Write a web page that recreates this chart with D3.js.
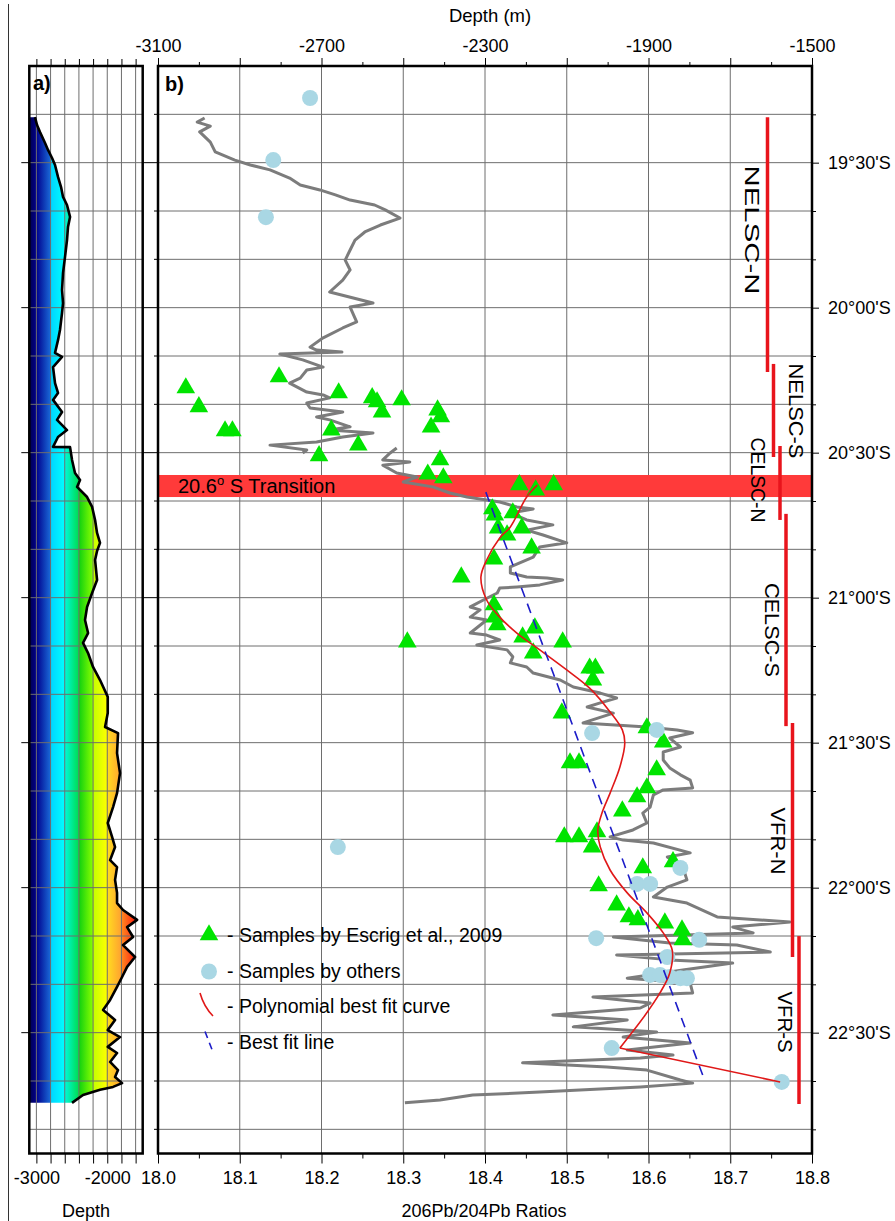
<!DOCTYPE html>
<html><head><meta charset="utf-8">
<script src="https://cdn.jsdelivr.net/npm/d3@7"></script>
<style>
body{margin:0;background:#fff}
svg{display:block}
text{font-family:"Liberation Sans",Arial,Helvetica,sans-serif;fill:#000}
</style>
</head><body>
<svg id="chart" width="895" height="1221"></svg>
<script>
// ---------------- DATA ----------------
const ratioTicks = [18.0,18.1,18.2,18.3,18.4,18.5,18.6,18.7,18.8];
const depthTopTicks = [-3100,-2700,-2300,-1900,-1500];
const depthATicks = [-3000,-2000];
const latTicks = [19.5,20.0,20.5,21.0,21.5,22.0,22.5];

// 206Pb/204Pb along-axis profile (lat S, ratio) – north part and south part
const grayNorth = [[19.346,18.057],[19.360,18.048],[19.374,18.064],[19.394,18.051],[19.429,18.064],[19.463,18.070],[19.491,18.094],[19.508,18.113],[19.525,18.137],[19.553,18.161],[19.577,18.174],[19.594,18.198],[19.611,18.217],[19.629,18.235],[19.646,18.265],[19.663,18.278],[19.691,18.296],[19.715,18.272],[19.739,18.253],[19.767,18.241],[19.801,18.235],[19.836,18.229],[19.870,18.235],[19.905,18.226],[19.946,18.210],[19.984,18.263],[19.998,18.235],[20.049,18.243],[20.070,18.226],[20.104,18.202],[20.136,18.186],[20.146,18.194],[20.153,18.225],[20.160,18.149],[20.180,18.177],[20.205,18.202],[20.215,18.182],[20.243,18.174],[20.260,18.161],[20.291,18.182],[20.301,18.202],[20.311,18.210],[20.329,18.182],[20.346,18.186],[20.360,18.226],[20.377,18.194],[20.387,18.210],[20.411,18.235],[20.422,18.210],[20.432,18.263],[20.446,18.226],[20.463,18.194],[20.474,18.137],[20.491,18.182],[20.501,18.177]];
const graySouth = [[20.484,18.292],[20.501,18.284],[20.525,18.275],[20.532,18.308],[20.543,18.275],[20.570,18.292],[20.584,18.317],[20.601,18.300],[20.618,18.336],[20.639,18.357],[20.653,18.378],[20.663,18.402],[20.670,18.418],[20.687,18.439],[20.694,18.459],[20.708,18.431],[20.732,18.451],[20.749,18.483],[20.767,18.451],[20.784,18.471],[20.811,18.500],[20.825,18.467],[20.860,18.459],[20.894,18.431],[20.915,18.431],[20.929,18.451],[20.932,18.476],[20.939,18.495],[20.956,18.467],[20.963,18.439],[20.967,18.418],[20.984,18.415],[21.008,18.398],[21.032,18.382],[21.042,18.394],[21.067,18.382],[21.077,18.402],[21.122,18.382],[21.129,18.402],[21.146,18.418],[21.163,18.390],[21.180,18.427],[21.204,18.434],[21.225,18.431],[21.239,18.451],[21.260,18.459],[21.284,18.492],[21.308,18.508],[21.329,18.541],[21.346,18.561],[21.363,18.541],[21.377,18.525],[21.398,18.557],[21.432,18.520],[21.446,18.598],[21.456,18.635],[21.466,18.654],[21.484,18.626],[21.515,18.639],[21.532,18.618],[21.560,18.618],[21.587,18.626],[21.611,18.639],[21.629,18.651],[21.656,18.654],[21.663,18.618],[21.680,18.606],[21.722,18.602],[21.743,18.593],[21.777,18.598],[21.801,18.581],[21.825,18.553],[21.836,18.569],[21.846,18.606],[21.880,18.651],[21.894,18.623],[21.929,18.642],[21.973,18.647],[21.998,18.623],[22.032,18.606],[22.053,18.647],[22.101,18.684],[22.118,18.773],[22.136,18.703],[22.156,18.728],[22.170,18.557],[22.191,18.626],[22.198,18.708],[22.222,18.749],[22.232,18.561],[22.249,18.626],[22.260,18.703],[22.284,18.642],[22.312,18.574],[22.329,18.651],[22.363,18.654],[22.377,18.532],[22.398,18.602],[22.415,18.590],[22.439,18.483],[22.456,18.574],[22.480,18.508],[22.498,18.610],[22.515,18.569],[22.536,18.651],[22.560,18.574],[22.577,18.630],[22.587,18.590],[22.604,18.446],[22.618,18.549],[22.629,18.598],[22.663,18.639],[22.674,18.654],[22.687,18.590],[22.705,18.467],[22.715,18.385],[22.732,18.345],[22.742,18.302]];

// Samples by Escrig et al., 2009 (lat, ratio)
const escrigLat = [20.277,20.342,20.425,20.425,20.239,20.294,20.311,20.325,20.360,20.318,20.353,20.377,20.412,20.422,20.474,20.511,20.525,20.574,20.587,20.611,20.629,20.611,20.694,20.715,20.708,20.760,20.784,20.760,20.829,20.867,20.929,21.025,21.067,21.094,21.136,21.105,21.153,21.191,21.153,21.243,21.243,21.284,21.398,21.570,21.570,21.449,21.498,21.594,21.656,21.687,21.736,21.808,21.825,21.825,21.860,21.911,21.932,21.994,22.060,22.101,22.111,22.122,22.146,22.180];
const escrigRatio = [18.034,18.050,18.082,18.091,18.148,18.221,18.262,18.268,18.274,18.298,18.342,18.346,18.334,18.212,18.245,18.197,18.345,18.330,18.349,18.442,18.462,18.484,18.409,18.412,18.434,18.416,18.427,18.445,18.457,18.411,18.371,18.411,18.412,18.415,18.446,18.461,18.495,18.459,18.305,18.528,18.535,18.532,18.494,18.504,18.515,18.598,18.618,18.610,18.598,18.586,18.568,18.537,18.497,18.515,18.531,18.630,18.593,18.539,18.561,18.576,18.587,18.620,18.641,18.642];

// Samples by others (lat, ratio)
const othersLat = [19.277,19.491,19.688,21.467,21.456,21.860,21.932,21.987,21.987,22.174,22.180,22.239,22.301,22.301,22.308,22.312,22.312,22.553,22.670];
const othersRatio = [18.186,18.141,18.132,18.531,18.610,18.220,18.639,18.586,18.602,18.536,18.662,18.623,18.602,18.614,18.626,18.639,18.647,18.555,18.763];

// Polynomial best fit curve (lat, ratio): smooth part, then straight segment to last sample
const polyLat = [20.612,20.653,20.756,20.794,20.870,20.929,21.008,21.067,21.122,21.180,21.249,21.312,21.394,21.456,21.501,21.584,21.674,21.743,21.801,21.860,21.939,22.018,22.087,22.156,22.215,22.294,22.363,22.439,22.553];
const polyRatio = [18.464,18.451,18.431,18.418,18.402,18.395,18.402,18.418,18.439,18.467,18.500,18.528,18.553,18.568,18.571,18.565,18.553,18.543,18.538,18.541,18.553,18.574,18.598,18.618,18.629,18.626,18.614,18.596,18.565];
const polyTailLat = [22.553,22.670];
const polyTailRatio = [18.565,18.761];

// Best fit line (lat, ratio)
const fitLat = [20.636,22.667];
const fitRatio = [18.401,18.669];

// Axial depth profile (lat, depth m)
const depthLat = [19.343,19.370,19.394,19.432,19.456,19.484,19.508,19.549,19.584,19.618,19.646,19.687,19.722,19.767,19.825,19.880,19.939,19.984,20.018,20.077,20.112,20.156,20.170,20.205,20.260,20.294,20.318,20.360,20.387,20.422,20.446,20.480,20.481,20.525,20.570,20.594,20.618,20.653,20.687,20.732,20.777,20.811,20.839,20.870,20.939,20.984,21.032,21.077,21.122,21.156,21.191,21.239,21.284,21.342,21.398,21.446,21.467,21.536,21.605,21.674,21.722,21.777,21.825,21.860,21.905,21.929,21.973,22.018,22.053,22.077,22.111,22.136,22.170,22.198,22.239,22.273,22.308,22.342,22.387,22.422,22.456,22.491,22.515,22.549,22.570,22.601,22.629,22.653,22.674,22.687,22.697,22.715,22.742];
const depthVal = [-3020,-2991,-2949,-2878,-2836,-2779,-2737,-2695,-2652,-2624,-2568,-2525,-2554,-2568,-2596,-2624,-2638,-2624,-2638,-2667,-2695,-2737,-2638,-2765,-2737,-2695,-2765,-2638,-2709,-2568,-2695,-2765,-2525,-2497,-2455,-2384,-2426,-2285,-2214,-2172,-2144,-2102,-2144,-2172,-2144,-2214,-2285,-2314,-2271,-2342,-2271,-2201,-2102,-1993,-1993,-2031,-1848,-1862,-1820,-1862,-1918,-1993,-1932,-1890,-1960,-1862,-1890,-1862,-1862,-1777,-1579,-1720,-1636,-1777,-1608,-1720,-1791,-1862,-1960,-2059,-1890,-1993,-1820,-1993,-1862,-1960,-1848,-1890,-1791,-1918,-2102,-2342,-2497];

// Ridge segments (name, lat start, lat end)
const segNames = ["NELSC-N","NELSC-S","CELSC-N","CELSC-S","VFR-N","VFR-S"];
const segStart = [19.343,20.194,20.477,20.711,21.432,22.167];
const segEnd = [20.222,20.515,20.732,21.443,22.239,22.746];

// Transition band
const transitionLat = [20.577,20.653];
const legendLabels = ["- Samples by Escrig et al., 2009","- Samples by others","- Polynomial best fit curve","- Best fit line"];

// ---------------- LAYOUT ----------------
const svg = d3.select("#chart");
const PB = {l:158, r:812, t:66, b:1153.5};
const PA = {l:29.3, r:142.7};
const y = d3.scaleLinear().domain([19+10/60, 22+55/60]).range([PB.t, PB.b]);
const xb = d3.scaleLinear().domain([18.0, 18.8]).range([PB.l, PB.r]);
const xTop = d3.scaleLinear().domain([-3100, -1500]).range([PB.l, PB.r]);
const xa = d3.scaleLinear().domain([-3100, -1500]).range([PA.l, PA.r]);

const gridCol = "#6e6e6e";
const latGrid = d3.range(1, 23).map(i => 19 + 10/60 + i*10/60).filter(v => v < 22.9);
const fmtLat = v => { const d = Math.floor(v + 1e-6); const m = Math.round((v - d)*60); return d + "°" + String(m).padStart(2,"0") + "'S"; };

// page border line
svg.append("line").attr("x1",8.5).attr("x2",8.5).attr("y1",4).attr("y2",1221).attr("stroke","#333").attr("stroke-width",1);

// ---------- Panel a ----------
const defs = svg.append("defs");
const grad = defs.append("linearGradient").attr("id","jet").attr("gradientUnits","userSpaceOnUse")
  .attr("x1",PA.l).attr("x2",PA.r).attr("y1",0).attr("y2",0);
const jetStops = [[-3100,"#00004e"],[-3000,"#00008c"],[-2800,"#1a6ad8"],[-2799,"#00d4ff"],[-2600,"#00ffff"],[-2599,"#00f8d8"],[-2400,"#00dc50"],[-2399,"#10d010"],[-2200,"#88ff00"],[-2199,"#c4ff00"],[-2000,"#ffff00"],[-1999,"#ffdc20"],[-1800,"#ffa030"],[-1799,"#ff8a20"],[-1600,"#ff2010"],[-1500,"#ff0000"]];
jetStops.forEach(s => grad.append("stop").attr("offset", (xa(s[0])-PA.l)/(PA.r-PA.l)).attr("stop-color", s[1]));

const depthPts = depthLat.map((l,i)=>[l, depthVal[i]]);
const area = d3.area().y(d=>y(d[0])).x0(PA.l).x1(d=>xa(d[1]));
svg.append("path").datum(depthPts).attr("d",area).attr("fill","url(#jet)");

// grid panel a
const ga = svg.append("g");
d3.range(-3000,-1599,200).forEach(v => ga.append("line").attr("x1",xa(v)).attr("x2",xa(v)).attr("y1",PB.t).attr("y2",PB.b).attr("stroke",gridCol).attr("stroke-width",1));
latGrid.forEach(v => ga.append("line").attr("x1",PA.l).attr("x2",PA.r).attr("y1",y(v)).attr("y2",y(v)).attr("stroke",gridCol).attr("stroke-width",1));

svg.append("path").datum(depthPts).attr("d", d3.line().x(d=>xa(d[1])).y(d=>y(d[0])))
  .attr("fill","none").attr("stroke","#000").attr("stroke-width",2.6).attr("stroke-linejoin","round");

svg.append("rect").attr("x",PA.l).attr("y",PB.t).attr("width",PA.r-PA.l).attr("height",PB.b-PB.t).attr("fill","none").attr("stroke","#000").attr("stroke-width",2.5);

// panel a axes
svg.append("g").attr("transform",`translate(0,${PB.t})`)
  .call(d3.axisTop(xa).tickValues(d3.range(-3000,-1599,200)).tickSize(7).tickFormat(""));
svg.append("g").attr("transform",`translate(0,${PB.b})`)
  .call(d3.axisBottom(xa).tickValues(d3.range(-3000,-1599,200)).tickSize(10).tickPadding(8)
    .tickFormat(v => depthATicks.includes(v) ? v : ""));
latTicks.forEach(v => svg.append("line").attr("x1",PA.l-8).attr("x2",PA.l).attr("y1",y(v)).attr("y2",y(v)).attr("stroke","#000"));
svg.append("text").attr("x",86).attr("y",1217).attr("text-anchor","middle").attr("font-size",18).text("Depth");
svg.append("text").attr("x",33).attr("y",90).attr("font-size",20).attr("font-weight","bold").text("a)");

// ---------- Panel b ----------
const gb = svg.append("g");
ratioTicks.slice(1,-1).forEach(v => gb.append("line").attr("x1",xb(v)).attr("x2",xb(v)).attr("y1",PB.t).attr("y2",PB.b).attr("stroke",gridCol).attr("stroke-width",1));
latGrid.forEach(v => gb.append("line").attr("x1",PB.l).attr("x2",PB.r).attr("y1",y(v)).attr("y2",y(v)).attr("stroke",gridCol).attr("stroke-width",1));

// transition band
svg.append("rect").attr("x",PB.l).attr("width",PB.r-PB.l).attr("y",y(transitionLat[0])).attr("height",y(transitionLat[1])-y(transitionLat[0])).attr("fill","#ff3a3a");
const tt = svg.append("text").attr("x",178).attr("y",y(transitionLat[1])-4).attr("font-size",20);
tt.append("tspan").text("20.6");
tt.append("tspan").attr("font-size",13).attr("dy",-8).text("o");
tt.append("tspan").attr("dy",8).text(" S Transition");

// gray profile
const gl = d3.line().x(d=>xb(d[1])).y(d=>y(d[0]));
[grayNorth, graySouth].forEach(s => svg.append("path").datum(s).attr("d",gl).attr("fill","none").attr("stroke","#7c7c7c").attr("stroke-width",3).attr("stroke-linejoin","round"));

// triangles
const tri = d3.symbol().type(d3.symbolTriangle).size(150);
svg.append("g").selectAll("path").data(escrigLat.map((l,i)=>[l,escrigRatio[i]])).join("path")
  .attr("d",tri).attr("transform",d=>`translate(${xb(d[1])},${y(d[0])})`).attr("fill","#00e400");
// circles
svg.append("g").selectAll("circle").data(othersLat.map((l,i)=>[l,othersRatio[i]])).join("circle")
  .attr("cx",d=>xb(d[1])).attr("cy",d=>y(d[0])).attr("r",8).attr("fill","#a9d7e4");

// polynomial curve
svg.append("path").datum(polyLat.map((l,i)=>[l,polyRatio[i]])).attr("d", d3.line().x(d=>xb(d[1])).y(d=>y(d[0])).curve(d3.curveCatmullRom.alpha(0.5)))
  .attr("fill","none").attr("stroke","#e01818").attr("stroke-width",1.6);
svg.append("path").datum(polyTailLat.map((l,i)=>[l,polyTailRatio[i]])).attr("d", d3.line().x(d=>xb(d[1])).y(d=>y(d[0])))
  .attr("fill","none").attr("stroke","#e01818").attr("stroke-width",1.6);
// best fit line
svg.append("path").datum(fitLat.map((l,i)=>[l,fitRatio[i]])).attr("d", d3.line().x(d=>xb(d[1])).y(d=>y(d[0])))
  .attr("fill","none").attr("stroke","#1c1cc8").attr("stroke-width",1.6).attr("stroke-dasharray","10,7");

// segment bars & labels
const segX = [767.5,773.5,780,786,792.5,799];
const segLabelX = [752,796,758,772,778,785];
const segLen = [129,95,85,94,67,61];
segNames.forEach((n,i) => {
  svg.append("line").attr("x1",segX[i]).attr("x2",segX[i]).attr("y1",y(segStart[i])).attr("y2",y(segEnd[i])).attr("stroke","#e8141c").attr("stroke-width",3.5);
});
const segLabelCY = [230,411,480,630,841,1022].map(v=>y.invert(v));
segNames.forEach((n,i) => {
  const cy = y(segLabelCY[i]);
  svg.append("text").attr("transform",`translate(${segLabelX[i]},${cy}) rotate(90)`)
    .attr("text-anchor","middle").attr("dominant-baseline","central").attr("font-size",21)
    .attr("textLength",segLen[i]).attr("lengthAdjust","spacingAndGlyphs").text(n);
});

// frame
svg.append("rect").attr("x",PB.l).attr("y",PB.t).attr("width",PB.r-PB.l).attr("height",PB.b-PB.t).attr("fill","none").attr("stroke","#000").attr("stroke-width",2.5);

// axes panel b
svg.append("g").attr("transform",`translate(0,${PB.b})`)
  .call(d3.axisBottom(xb).tickValues(d3.range(18.05,18.8,0.1)).tickSize(5).tickFormat(""));
svg.append("g").attr("transform",`translate(0,${PB.b})`)
  .call(d3.axisBottom(xb).tickValues(ratioTicks).tickSize(10).tickPadding(8).tickFormat(d3.format(".1f")));
svg.append("g").attr("transform",`translate(0,${PB.t})`)
  .call(d3.axisTop(xTop).tickValues(d3.range(-3000,-1500,200)).tickSize(4).tickFormat(""));
svg.append("g").attr("transform",`translate(0,${PB.t})`)
  .call(d3.axisTop(xTop).tickValues(d3.range(-3100,-1499,200)).tickSize(8).tickPadding(6)
   .tickFormat(v => depthTopTicks.includes(v) ? v : ""));
svg.append("g").attr("transform",`translate(${PB.r},0)`)
  .call(d3.axisRight(y).tickValues(latGrid.filter(v=>!latTicks.some(t=>Math.abs(t-v)<1e-6))).tickSize(4).tickFormat(""));
svg.append("g").attr("transform",`translate(${PB.r},0)`)
  .call(d3.axisRight(y).tickValues(latTicks).tickSize(7).tickPadding(9).tickFormat(fmtLat));
latGrid.forEach(v => {
  const major = latTicks.some(t=>Math.abs(t-v)<1e-6);
  svg.append("line").attr("x1",major?PA.r:PB.l-4).attr("x2",PB.l).attr("y1",y(v)).attr("y2",y(v)).attr("stroke","#000");
});

svg.selectAll(".domain").remove();
svg.selectAll(".tick line").attr("stroke","#000");
svg.selectAll(".tick text").attr("font-size",18).attr("font-family",'"Liberation Sans",Arial,sans-serif').attr("fill","#000");

svg.append("text").attr("x",490).attr("y",22).attr("text-anchor","middle").attr("font-size",18.5).text("Depth (m)");
svg.append("text").attr("x",484).attr("y",1217).attr("text-anchor","middle").attr("font-size",18).text("206Pb/204Pb Ratios");
svg.append("text").attr("x",165).attr("y",91).attr("font-size",20).attr("font-weight","bold").text("b)");

// legend
const lg = svg.append("g");
const rowY = [942,977.5,1013,1048.5];
legendLabels.forEach((t,i)=> lg.append("text").attr("x",227).attr("y",rowY[i]).attr("font-size",19.5).text(t));
lg.append("path").attr("d",tri).attr("transform",`translate(209,${rowY[0]-7})`).attr("fill","#00e400");
lg.append("circle").attr("cx",209).attr("cy",rowY[1]-6).attr("r",8).attr("fill","#a9d7e4");
lg.append("path").attr("d",`M200,${rowY[2]-20} Q204,${rowY[2]-6} 213,${rowY[2]+3}`).attr("fill","none").attr("stroke","#e01818").attr("stroke-width",1.6);
lg.append("path").attr("d",`M205,${rowY[3]-17} L212,${rowY[3]+1}`).attr("fill","none").attr("stroke","#1c1cc8").attr("stroke-width",1.6).attr("stroke-dasharray","7,5");
</script>
</body></html>
